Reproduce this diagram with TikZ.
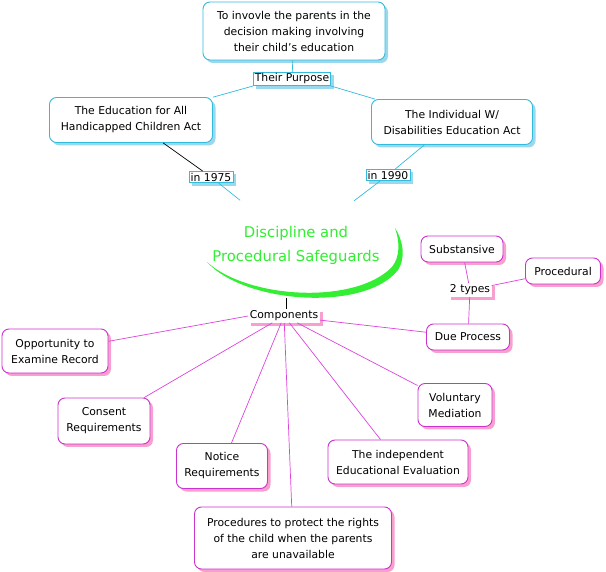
\documentclass[tikz,border=0pt]{standalone}
\usepackage{fontspec}
\setmainfont{DejaVu Sans}
\usetikzlibrary{shapes.geometric,shadows}
\definecolor{bl}{HTML}{33BBDD}
\definecolor{blsh}{HTML}{9AD8EE}
\definecolor{pk}{HTML}{CC33CC}
\definecolor{pksh}{HTML}{F7A0CF}
\definecolor{pkline}{HTML}{DD44DD}
\definecolor{gr}{HTML}{33EE33}
\tikzset{
  base/.style={font=\fontsize{10.8}{16}\selectfont, align=center, fill=white,
    rounded corners=7pt, line width=0.9pt, inner sep=1pt},
  bbox/.style={base, draw=bl, drop shadow={shadow xshift=3pt, shadow yshift=-3pt, fill=blsh, opacity=1}},
  pbox/.style={base, draw=pk, drop shadow={shadow xshift=3pt, shadow yshift=-3pt, fill=pksh, opacity=1}},
  blab/.style={font=\fontsize{10.8}{12}\selectfont, draw=bl, line width=0.5pt, fill=white, inner sep=1.5pt,
    drop shadow={shadow xshift=3pt, shadow yshift=-3pt, fill=blsh, opacity=1}},
  plab/.style={font=\fontsize{10.8}{12}\selectfont, fill=white, inner sep=1.5pt,
    drop shadow={shadow xshift=3pt, shadow yshift=-3pt, fill=pksh, opacity=1}},
  bline/.style={draw=bl, line width=0.7pt},
  pline/.style={draw=pkline, line width=0.7pt},
  kline/.style={draw=black, line width=0.7pt},
}
\begin{document}
\begin{tikzpicture}[x=1pt,y=-1pt]
\useasboundingbox (0,0) rectangle (606,572);
\fill[white] (0,0) rectangle (606,572);

% central topic
\node[ellipse, minimum width=200pt, minimum height=100pt, text=gr, align=center,
  font=\fontsize{14.8}{24}\selectfont] (center) at (296,245) {Discipline and\\Procedural Safeguards};
\fill[gr] (207,262) .. controls (245,304) and (365,312) .. (398,270)
  .. controls (406,258) and (403,240) .. (395,228)
  .. controls (400,242) and (400,257) .. (392,267)
  .. controls (355,305) and (248,299) .. (207,262) -- cycle;
\coordinate (swoosh) at (286,298);

% blue part
\node[bbox, minimum width=182pt, minimum height=58pt] (purposebox) at (294,31)
  {To invovle the parents in the\\decision making involving\\their child's education};
\node[blab] (purpose) at (292,79) {Their Purpose};
\node[bbox, minimum width=163pt, minimum height=45pt] (eha) at (131,120)
  {The Education for All\\Handicapped Children Act};
\node[bbox, minimum width=161pt, minimum height=45pt] (idea) at (452,122)
  {The Individual W/\\Disabilities Education Act};
\node[blab] (y1975) at (211,177) {in 1975};
\node[blab] (y1990) at (388,175) {in 1990};

\draw[bline] (purposebox) -- (purpose);
\draw[bline] (purpose.south west) -- (eha);
\draw[bline] (purpose.south east) -- (idea);
\draw[kline] (eha) -- (y1975);
\draw[bline] (y1975) -- (center);
\draw[bline] (idea) -- (y1990);
\draw[bline] (y1990) -- (center);

% pink part
\node[plab] (comp) at (284,316) {Components};
\draw[kline] (swoosh) -- (comp.north -| swoosh);

\node[pbox, minimum width=83pt, minimum height=26pt] (due) at (468,337) {Due Process};
\node[plab] (types) at (470,290) {2 types};
\node[pbox, minimum width=82pt, minimum height=26pt] (subst) at (462,249) {Substansive};
\node[pbox, minimum width=75pt, minimum height=26pt] (proc) at (563,271) {Procedural};
\node[pbox, minimum width=106pt, minimum height=44pt] (opp) at (55,351) {Opportunity to\\Examine Record};
\node[pbox, minimum width=92pt, minimum height=46pt] (cons) at (104,421) {Consent\\Requirements};
\node[pbox, minimum width=91pt, minimum height=45pt] (notice) at (222,466) {Notice\\Requirements};
\node[pbox, minimum width=197pt, minimum height=62pt] (procs) at (293,538)
  {Procedures to protect the rights\\of the child when the parents\\are unavailable};
\node[pbox, minimum width=140pt, minimum height=44pt] (iee) at (398,462) {The independent\\Educational Evaluation};
\node[pbox, minimum width=74pt, minimum height=43pt] (vol) at (455,405) {Voluntary\\Mediation};

\draw[pline] (subst) -- (types);
\draw[pline] (types) -- (proc);
\draw[pline] (types) -- (due);
\draw[pline] (comp) -- (due);
\draw[pline] (comp.west) -- (opp);
\draw[pline] (comp) -- (cons);
\draw[pline] (comp) -- (notice);
\draw[pline] (comp) -- (procs);
\draw[pline] (comp) -- (iee);
\draw[pline] (comp) -- (vol);
\end{tikzpicture}
\end{document}
